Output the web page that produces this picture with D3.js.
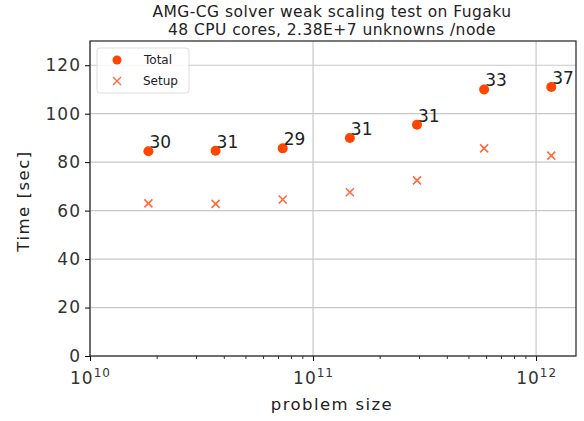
<!doctype html>
<html>
<head>
<meta charset="utf-8">
<style>
body { margin:0; background:#fff; }
svg { font-family: "DejaVu Sans", sans-serif; }
</style>
<script src="https://d3js.org/d3.v7.min.js"></script>
</head>
<body>
<script>
// weak scaling: 2.38E+7 unknowns per node
var nodes = [768, 1536, 3072, 6144, 12288, 24576, 49152];
var perNode = 2.38e7;
var totalTime = [84.5, 84.7, 85.7, 90, 95.4, 110, 111];
var setupTime = [63, 62.8, 64.6, 67.6, 72.5, 85.7, 82.7];
var iterLabels = ['30', '31', '29', '31', '31', '33', '37'];
var yTicks = [0, 20, 40, 60, 80, 100, 120];
var xTicks = [1e10, 1e11, 1e12];

var width = 584, height = 421;
var m = {left: 90, top: 41, right: 8, bottom: 65};

var svg = d3.select('body').append('svg')
    .attr('width', width).attr('height', height);

var x = d3.scaleLog().domain([1e10, 1.51e12]).range([m.left, width - m.right]);
var y = d3.scaleLinear().domain([0, 130]).range([height - m.bottom, m.top]);

var totalColor = '#ff4500', setupColor = '#ff6a3d';

// grid
svg.append('g').selectAll('line').data(yTicks).enter().append('line')
    .attr('x1', m.left).attr('x2', width - m.right)
    .attr('y1', d => y(d)).attr('y2', d => y(d))
    .attr('stroke', '#c8c8c8').attr('stroke-width', 1.2);
svg.append('g').selectAll('line').data(xTicks).enter().append('line')
    .attr('y1', m.top).attr('y2', height - m.bottom)
    .attr('x1', d => x(d)).attr('x2', d => x(d))
    .attr('stroke', '#c8c8c8').attr('stroke-width', 1.2);

// axes
var yAxis = svg.append('g').attr('transform', 'translate(' + m.left + ',0)')
    .call(d3.axisLeft(y).tickValues(yTicks).tickSize(5).tickPadding(4));
yAxis.select('.domain').remove();
yAxis.selectAll('text').attr('font-size', 17).attr('fill', '#333')
    .attr('letter-spacing', 1)
    .attr('font-family', '"DejaVu Sans", sans-serif');

var minor = [];
[1e10, 1e11, 1e12].forEach(function (b) {
  for (var k = 2; k <= 9; k++) if (b * k <= 1.51e12) minor.push(b * k);
});
var xAxis = svg.append('g').attr('transform', 'translate(0,' + (height - m.bottom) + ')')
    .call(d3.axisBottom(x).tickValues(xTicks).tickSize(5).tickFormat(''));
xAxis.select('.domain').remove();
svg.append('g').attr('transform', 'translate(0,' + (height - m.bottom) + ')')
    .selectAll('line').data(minor).enter().append('line')
    .attr('x1', d => x(d)).attr('x2', d => x(d)).attr('y1', 0).attr('y2', 3)
    .attr('stroke', '#000').attr('stroke-width', 0.8);

xAxis.selectAll('.tick').each(function (d) {
  var t = d3.select(this).append('text').attr('y', 28).attr('fill', '#333')
      .attr('font-size', 17).attr('text-anchor', 'middle').attr('letter-spacing', 1)
      .attr('font-family', '"DejaVu Sans", sans-serif');
  t.append('tspan').text('10');
  t.append('tspan').attr('dy', -7).attr('font-size', 12).text(Math.round(Math.log10(d)));
});

// frame
svg.append('rect').attr('x', m.left).attr('y', m.top)
    .attr('width', width - m.right - m.left).attr('height', height - m.bottom - m.top)
    .attr('fill', 'none').attr('stroke', '#222').attr('stroke-width', 1.2);

// data
var sizes = nodes.map(n => n * perNode);

svg.append('g').selectAll('path').data(sizes).enter().append('path')
    .attr('d', 'M-4,-4L4,4M-4,4L4,-4')
    .attr('transform', (d, i) => 'translate(' + x(d) + ',' + y(setupTime[i]) + ')')
    .attr('stroke', setupColor).attr('stroke-width', 1.6).attr('fill', 'none');

svg.append('g').selectAll('circle').data(sizes).enter().append('circle')
    .attr('cx', d => x(d)).attr('cy', (d, i) => y(totalTime[i]))
    .attr('r', 5).attr('fill', totalColor);

svg.append('g').selectAll('text').data(sizes).enter().append('text')
    .attr('x', d => x(d) + 1).attr('y', (d, i) => y(totalTime[i]) - 3)
    .attr('font-size', 17).attr('fill', '#222')
    .text((d, i) => iterLabels[i]);

// legend
var lg = svg.append('g');
lg.append('rect').attr('x', 97).attr('y', 48).attr('width', 92).attr('height', 45)
    .attr('rx', 3).attr('fill', '#fff').attr('fill-opacity', 0.8)
    .attr('stroke', '#ddd');
lg.append('circle').attr('cx', 117).attr('cy', 60).attr('r', 4.5).attr('fill', totalColor);
lg.append('path').attr('d', 'M-4,-4L4,4M-4,4L4,-4').attr('transform', 'translate(117,81)')
    .attr('stroke', setupColor).attr('stroke-width', 1.4);
lg.append('text').attr('x', 144).attr('y', 64).attr('font-size', 12).attr('fill', '#222').text('Total');
lg.append('text').attr('x', 143).attr('y', 85).attr('font-size', 12).attr('fill', '#222').text('Setup');

// titles
svg.append('text').attr('x', 332).attr('y', 17).attr('text-anchor', 'middle')
    .attr('font-size', 15.5).attr('letter-spacing', 0.45).attr('fill', '#222')
    .text('AMG-CG solver weak scaling test on Fugaku');
svg.append('text').attr('x', 332).attr('y', 35).attr('text-anchor', 'middle')
    .attr('font-size', 15.5).attr('letter-spacing', 0.45).attr('fill', '#222')
    .text('48 CPU cores, 2.38E+7 unknowns /node');
svg.append('text').attr('x', 332).attr('y', 410).attr('text-anchor', 'middle')
    .attr('font-size', 16.5).attr('letter-spacing', 1.4).attr('fill', '#222').text('problem size');
svg.append('text').attr('transform', 'translate(29,201) rotate(-90)')
    .attr('text-anchor', 'middle').attr('font-size', 16.5).attr('letter-spacing', 1.5)
    .attr('fill', '#222').text('Time [sec]');
</script>
</body>
</html>
